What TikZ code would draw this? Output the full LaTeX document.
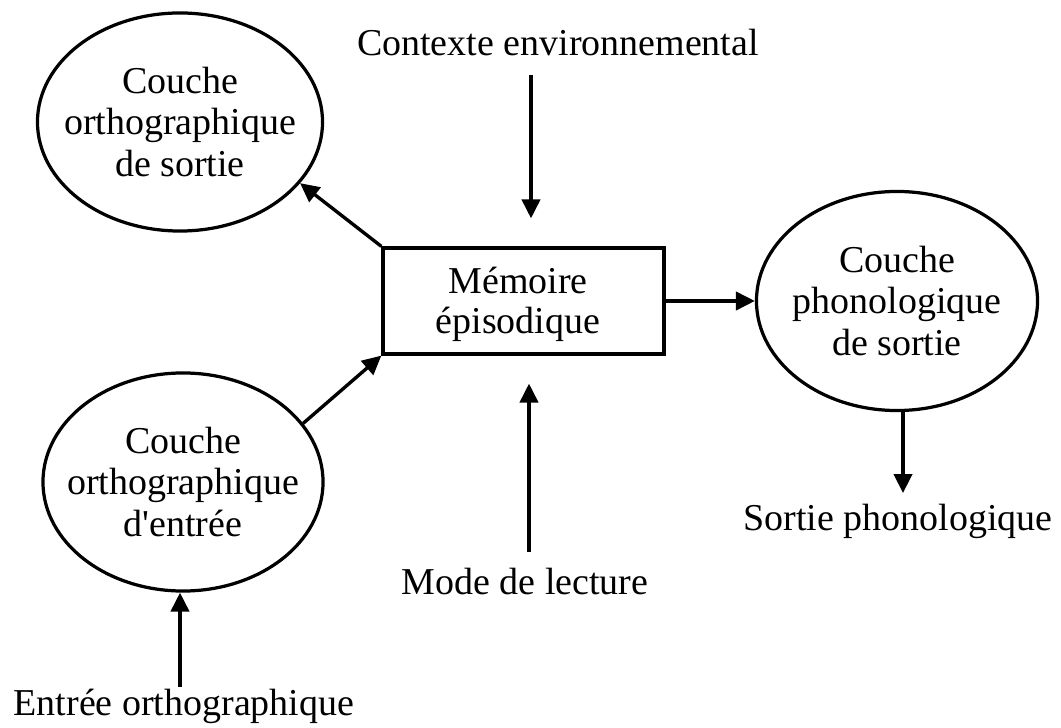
\documentclass[tikz,border=0pt]{standalone}
\usepackage{fontspec}
\setmainfont{Liberation Serif}
\usetikzlibrary{shapes.geometric,arrows.meta}
\begin{document}
\begin{tikzpicture}[x=0.025cm,y=-0.025cm,
  every node/.style={font=\fontsize{27}{29.5}\selectfont},
  layer/.style={draw, ellipse, line width=2.3pt, inner sep=0pt},
  txt/.style={align=center, inner sep=0pt},
  box/.style={draw, rectangle, line width=2.3pt, inner sep=0pt,
    minimum width=7.025cm, minimum height=2.65cm},
  link/.style={line width=2.4pt, -{Triangle[length=13.5pt,width=13pt]}}]
\useasboundingbox (0,0) rectangle (1061,728);

% layers (outlines) and their labels
\node[layer, minimum width=7.125cm, minimum height=5.45cm] (oout) at (180,122) {};
\node[txt] (oouttxt) at (oout.center) {Couche\\orthographique\\de sortie};

\node[layer, minimum width=7.0cm, minimum height=5.45cm] (oin) at (183,482) {};
\node[txt] (ointxt) at (oin.center) {Couche\\orthographique\\d\textquotesingle entrée};

\node[layer, minimum width=7.025cm, minimum height=5.475cm] (pout) at (897,301) {};
\node[txt] (pouttxt) at (pout.center) {Couche\\phonologique\\de sortie};

% episodic memory
\node[box] (mem) at (523.5,301) {};
\node[txt, font=\fontsize{27}{28.5}\selectfont] (memtxt) at (518,304) {Mémoire\\épisodique};

% external inputs and output
\node[txt, anchor=base] (ctx) at (558,56) {Contexte environnemental};
\node[txt, anchor=base] (mode) at (525,595) {Mode de lecture};
\node[txt, anchor=base] (sout) at (898,530) {Sortie phonologique};
\node[txt, anchor=base] (ein) at (184,715) {Entrée orthographique};

\coordinate (xctx) at (531,0);
\coordinate (xmode) at (529,0);
\coordinate (xsout) at (903,0);
\coordinate (xein) at (180,0);

% connectors
\draw[link] (mem.north west) -- (oout.-27);
\draw[link] (oin.26) -- (mem.south west);
\draw[link] (mem.east) -- (pout.west);
\draw[link] ([yshift=-0.475cm]ctx.base -| xctx) -- ([yshift=0.7cm]mem.north -| xctx);
\draw[link] ([yshift=1.075cm]mode.base -| xmode) -- ([yshift=-0.7cm]mem.south -| xmode);
\draw[link] (pout.south -| xsout) -- ([yshift=0.925cm]sout.base -| xsout);
\draw[link] ([yshift=0.7cm]ein.base -| xein) -- (oin.south -| xein);
\end{tikzpicture}
\end{document}
